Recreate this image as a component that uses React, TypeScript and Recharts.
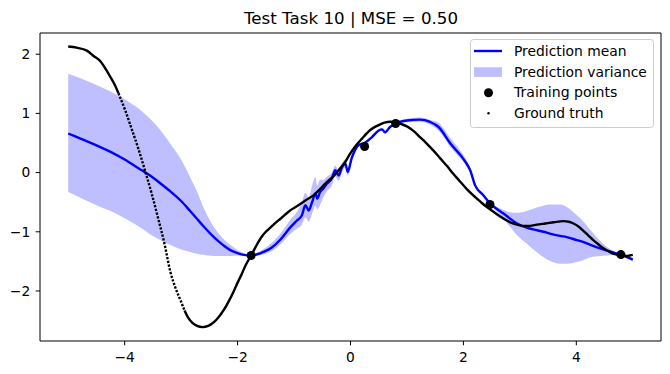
import React from 'react';
import { ComposedChart, Line, Area, Scatter, XAxis, YAxis, ReferenceArea } from 'recharts';

const titleText = 'Test Task 10 | MSE = 0.50';
const legendLabels = ['Prediction mean', 'Prediction variance', 'Training points', 'Ground truth'];
const xTicks = [-4, -2, 0, 2, 4];
const yTicks = [-2, -1, 0, 1, 2];
const xDomain: [number, number] = [-5.5, 5.5];
const yDomain: [number, number] = [-2.845, 2.358];

const predX = [-5.0, -4.75, -4.5, -4.25, -4.0, -3.75, -3.55, -3.37, -3.2, -3.0, -2.84, -2.72, -2.6, -2.42, -2.25, -2.13, -2.0, -1.89, -1.76, -1.65, -1.54, -1.4, -1.24, -1.07, -0.95, -0.86, -0.8, -0.74, -0.68, -0.62, -0.59, -0.54, -0.48, -0.42, -0.33, -0.27, -0.21, -0.15, -0.09, -0.05, 0.02, 0.08, 0.14, 0.25, 0.38, 0.5, 0.56, 0.61, 0.7, 0.8, 1.0, 1.23, 1.41, 1.56, 1.77, 2.03, 2.12, 2.21, 2.35, 2.47, 2.6, 2.71, 2.83, 2.95, 3.12, 3.24, 3.42, 3.53, 3.71, 3.83, 4.01, 4.12, 4.25, 4.42, 4.55, 4.72, 4.79, 4.9, 5.0];
const predMean = [0.66, 0.56, 0.46, 0.35, 0.22, 0.07, -0.05, -0.18, -0.31, -0.48, -0.65, -0.78, -0.91, -1.09, -1.23, -1.31, -1.36, -1.39, -1.4, -1.38, -1.34, -1.27, -1.13, -0.93, -0.81, -0.72, -0.55, -0.64, -0.5, -0.35, -0.44, -0.33, -0.27, -0.19, -0.1, 0.04, -0.05, 0.09, 0.15, 0.01, 0.24, 0.38, 0.46, 0.5, 0.6, 0.71, 0.73, 0.68, 0.77, 0.83, 0.88, 0.895, 0.855, 0.77, 0.49, 0.19, 0.04, -0.22, -0.38, -0.52, -0.62, -0.69, -0.78, -0.86, -0.93, -0.96, -1.0, -1.03, -1.07, -1.09, -1.14, -1.17, -1.22, -1.28, -1.32, -1.37, -1.39, -1.43, -1.47];
const predLow = [-0.33, -0.44, -0.55, -0.65, -0.77, -0.91, -1.04, -1.14, -1.22, -1.3, -1.34, -1.37, -1.39, -1.41, -1.41, -1.41, -1.4, -1.4, -1.4, -1.4, -1.38, -1.33, -1.21, -1.04, -0.95, -0.88, -0.76, -0.83, -0.7, -0.56, -0.62, -0.55, -0.42, -0.32, -0.22, -0.06, -0.14, 0.01, 0.08, -0.05, 0.18, 0.34, 0.43, 0.48, 0.58, 0.69, 0.71, 0.66, 0.75, 0.82, 0.85, 0.86, 0.81, 0.71, 0.43, 0.14, 0.0, -0.25, -0.4, -0.53, -0.67, -0.78, -0.92, -1.06, -1.2, -1.3, -1.43, -1.49, -1.54, -1.54, -1.51, -1.48, -1.43, -1.41, -1.4, -1.39, -1.4, -1.45, -1.5];
const predHigh = [1.67, 1.58, 1.48, 1.37, 1.24, 1.08, 0.91, 0.72, 0.5, 0.22, -0.08, -0.32, -0.6, -0.92, -1.12, -1.22, -1.31, -1.36, -1.4, -1.35, -1.29, -1.19, -1.03, -0.8, -0.66, -0.5, -0.34, -0.42, -0.22, -0.08, -0.22, -0.12, -0.12, -0.07, 0.0, 0.12, 0.04, 0.16, 0.22, 0.08, 0.3, 0.42, 0.49, 0.52, 0.62, 0.73, 0.75, 0.7, 0.79, 0.84, 0.91, 0.93, 0.89, 0.84, 0.58, 0.25, 0.08, -0.19, -0.36, -0.51, -0.58, -0.63, -0.67, -0.68, -0.65, -0.61, -0.56, -0.54, -0.54, -0.58, -0.72, -0.82, -0.97, -1.15, -1.26, -1.35, -1.38, -1.41, -1.44];

const trainX = [-1.76, 0.25, 0.8, 2.47, 4.79];
const trainY = [-1.4, 0.44, 0.83, -0.54, -1.385];

const truthX = [-5.0, -4.85, -4.67, -4.55, -4.43, -4.33, -4.25, -4.17, -4.11, -3.99, -3.87, -3.75, -3.63, -3.52, -3.4, -3.3, -3.19, -3.1, -3.01, -2.94, -2.87, -2.8, -2.72, -2.62, -2.52, -2.45, -2.38, -2.31, -2.23, -2.16, -2.08, -2.01, -1.93, -1.86, -1.76, -1.66, -1.57, -1.5, -1.42, -1.33, -1.24, -1.07, -0.95, -0.8, -0.65, -0.54, -0.42, -0.3, -0.2, -0.1, 0.0, 0.1, 0.2, 0.35, 0.47, 0.6, 0.7, 0.8, 0.9, 1.0, 1.12, 1.23, 1.35, 1.47, 1.59, 1.71, 1.82, 1.94, 2.06, 2.18, 2.3, 2.41, 2.5, 2.65, 2.83, 2.95, 3.06, 3.18, 3.3, 3.45, 3.6, 3.77, 3.87, 3.95, 4.05, 4.12, 4.21, 4.3, 4.4, 4.48, 4.57, 4.65, 4.72, 4.79, 4.89, 4.95, 5.0];
const truthY = [2.13, 2.11, 2.06, 1.97, 1.88, 1.74, 1.61, 1.47, 1.34, 1.05, 0.72, 0.38, 0.0, -0.36, -0.8, -1.18, -1.68, -1.95, -2.16, -2.33, -2.46, -2.54, -2.59, -2.61, -2.59, -2.55, -2.49, -2.41, -2.3, -2.18, -2.03, -1.88, -1.72, -1.57, -1.4, -1.22, -1.08, -1.0, -0.93, -0.85, -0.78, -0.64, -0.57, -0.47, -0.38, -0.28, -0.16, -0.06, 0.05, 0.17, 0.33, 0.46, 0.57, 0.72, 0.79, 0.845, 0.86, 0.85, 0.82, 0.78, 0.7, 0.6, 0.49, 0.37, 0.24, 0.11, -0.02, -0.15, -0.28, -0.39, -0.49, -0.58, -0.64, -0.74, -0.84, -0.88, -0.9, -0.9, -0.88, -0.86, -0.84, -0.82, -0.83, -0.86, -0.92, -0.98, -1.06, -1.14, -1.22, -1.28, -1.33, -1.37, -1.385, -1.39, -1.41, -1.4, -1.39];

const steepFrom = -4.11;
const steepTo = -2.94;

const predData = predX.map((x, i) => ({ x, mean: predMean[i], band: [predLow[i], predHigh[i]] }));
const trainData = trainX.map((x, i) => ({ x, y: trainY[i] }));
const truthData = truthX.map((x, i) => ({ x, y: truthY[i] }));
const truthLeft = truthData.filter((d) => d.x <= steepFrom);
const truthSteep = truthData.filter((d) => d.x >= steepFrom && d.x <= steepTo);
const truthRight = truthData.filter((d) => d.x >= steepTo);

const FONT = "'DejaVu Sans', 'Bitstream Vera Sans', Verdana, sans-serif";
const fmt = (v: number) => (v < 0 ? '\u2212' + Math.abs(v) : String(v));
const tickStyle = { fontSize: 13.8, fill: '#000', fontFamily: FONT };
const legendTextWidths = [112.6, 132.9, 103.3, 89.5];

const Dot = (props: any) => <circle cx={props.cx} cy={props.cy} r={4.5} fill="#000" />;

export default function App() {
  return (
    <div style={{ position: 'absolute', left: 0, top: 0, width: 670, height: 374, background: '#fff', fontFamily: FONT }}>
      <ComposedChart width={670} height={374} data={predData} margin={{ top: 33, right: 9, bottom: 0, left: 0 }} style={{ fontFamily: FONT }}>
        <XAxis
          type="number"
          dataKey="x"
          domain={xDomain}
          ticks={xTicks}
          allowDataOverflow
          height={33}
          tickSize={4.3}
          tickMargin={7}
          axisLine={false}
          tickLine={{ stroke: '#000' }}
          tick={tickStyle}
          tickFormatter={fmt}
        />
        <YAxis
          type="number"
          domain={yDomain}
          ticks={yTicks}
          allowDataOverflow
          width={40}
          tickSize={4.3}
          tickMargin={5.5}
          axisLine={false}
          tickLine={{ stroke: '#000' }}
          tick={tickStyle}
          tickFormatter={fmt}
        />
        <Area
          type="monotone"
          dataKey="band"
          stroke="none"
          fill="#bfbfff"
          fillOpacity={1}
          isAnimationActive={false}
          activeDot={false}
        />
        <Line
          type="monotone"
          dataKey="mean"
          stroke="#0000ff"
          strokeWidth={2.4}
          dot={false}
          activeDot={false}
          isAnimationActive={false}
        />
        <Scatter data={trainData} dataKey="y" shape={Dot} isAnimationActive={false} />
        <Line data={truthLeft} type="monotone" dataKey="y" stroke="#000" strokeWidth={2.4} dot={false} activeDot={false} isAnimationActive={false} />
        <Line data={truthSteep} type="monotone" dataKey="y" stroke="#000" strokeWidth={2.4} strokeDasharray="2.3 1.5" dot={false} activeDot={false} isAnimationActive={false} />
        <Line data={truthRight} type="monotone" dataKey="y" stroke="#000" strokeWidth={2.4} dot={false} activeDot={false} isAnimationActive={false} />
        <ReferenceArea x1={xDomain[0]} x2={xDomain[1]} y1={yDomain[0]} y2={yDomain[1]} fill="none" stroke="#000" strokeWidth={1} ifOverflow="visible" />
      </ComposedChart>
      <svg width={670} height={374} style={{ position: 'absolute', left: 0, top: 0, pointerEvents: 'none', fontFamily: FONT }}>
        <text x={351} y={23.5} textAnchor="middle" fontSize={16.3} fill="#000" textLength={214} lengthAdjust="spacingAndGlyphs">{titleText}</text>
        <rect x={470.5} y={39.5} width={183} height={88} rx={3} fill="#fff" fillOpacity={0.8} stroke="#cccccc" />
        <line x1={474} x2={502} y1={51} y2={51} stroke="#0000ff" strokeWidth={2.4} />
        <rect x={474} y={67.3} width={28} height={9.6} fill="#bfbfff" />
        <circle cx={488.5} cy={92.7} r={4.5} fill="#000" />
        <circle cx={488.5} cy={113.3} r={1.2} fill="#000" />
        {legendLabels.map((t, i) => (
          <text key={t} x={514} y={56 + i * 20.7} fontSize={13.8} fill="#000" textLength={legendTextWidths[i]} lengthAdjust="spacingAndGlyphs">{t}</text>
        ))}
      </svg>
    </div>
  );
}
